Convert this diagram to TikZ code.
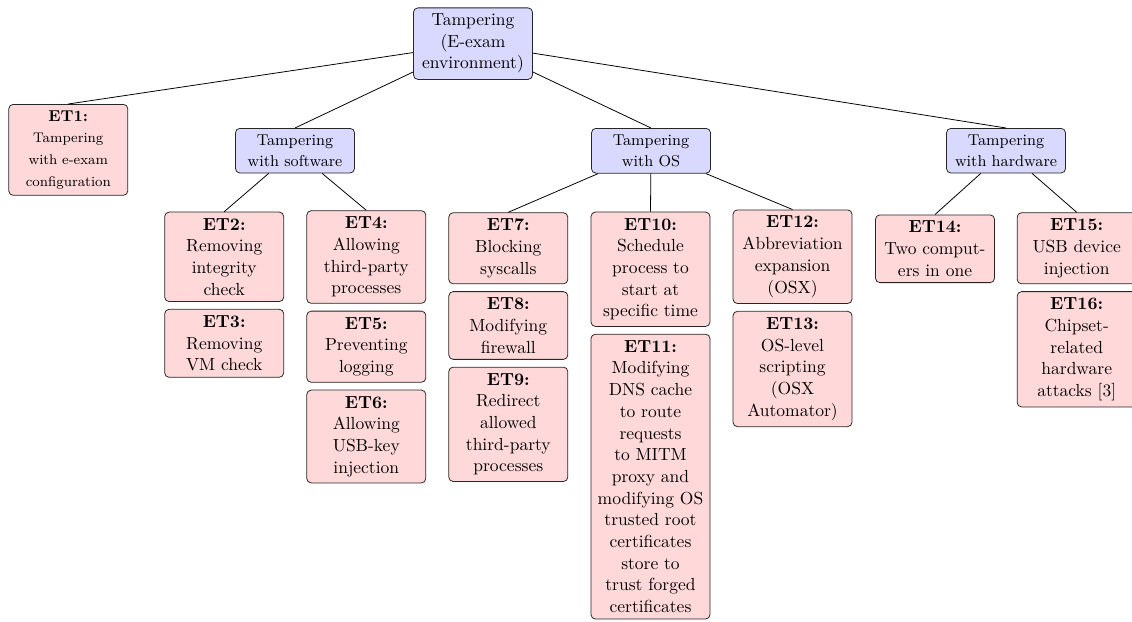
\documentclass[tikz,border=0pt]{standalone}
\usetikzlibrary{positioning}

\tikzset{
  box/.style={draw=black!85, line width=0.45pt, rounded corners=2.5pt,
    inner sep=3.5pt, align=center, text width=61pt},
  rootbox/.style={box, fill=blue!15, font=\fontsize{10}{12.3}\selectfont},
  groupbox/.style={box, fill=blue!15, minimum height=25.3pt,
    font=\fontsize{9}{12.3}\selectfont},
  leaf/.style={box, fill=red!15, font=\fontsize{10}{12.4}\selectfont},
  smallleaf/.style={box, fill=red!15, font=\fontsize{8}{12.4}\selectfont},
  link/.style={draw=black, line width=0.45pt},
}

\begin{document}
\begin{tikzpicture}[x=0.5714pt, y=-0.5714pt]
  \useasboundingbox (0,0) rectangle (1132,621);

  % root and first level
  \node[rootbox, anchor=north] (root) at (473,7.5)
    {Tampering\\(E-exam\\environment)};
  \node[smallleaf, anchor=north] (et1) at (68.3,104)
    {{\fontsize{9}{12.4}\selectfont\textbf{ET1:}}\\Tampering\\with e-exam\\configuration};
  \node[groupbox, anchor=north] (sw) at (295,128) {Tampering\\with software};
  \node[groupbox, anchor=north] (os) at (651,128) {Tampering\\with OS};
  \node[groupbox, anchor=north] (hw) at (1006,128) {Tampering\\with hardware};

  % software attacks
  \node[leaf, anchor=north] (et2) at (224.2,211.7)
    {\textbf{ET2:}\\Removing\\integrity\\check};
  \node[leaf, below=4pt of et2] (et3) {\textbf{ET3:}\\Removing\\VM check};
  \node[leaf, anchor=north] (et4) at (366.3,210.3)
    {\textbf{ET4:}\\Allowing\\third-party\\processes};
  \node[leaf, below=4pt of et4] (et5) {\textbf{ET5:}\\Preventing\\logging};
  \node[leaf, below=4pt of et5] (et6) {\textbf{ET6:}\\Allowing\\USB-key\\injection};

  % OS attacks
  \node[leaf, anchor=north] (et7) at (508.3,212.3)
    {\textbf{ET7:}\\Blocking\\syscalls};
  \node[leaf, below=4pt of et7] (et8) {\textbf{ET8:}\\Modifying\\firewall};
  \node[leaf, below=4pt of et8] (et9)
    {\textbf{ET9:}\\Redirect\\allowed\\third-party\\processes};
  \node[leaf, anchor=north] (et10) at (650.5,211.7)
    {\textbf{ET10:}\\Schedule\\process to\\start at\\specific time};
  \node[leaf, below=4pt of et10] (et11)
    {\textbf{ET11:}\\Modifying\\DNS cache\\to route\\requests\\to MITM\\proxy and\\modifying OS\\trusted root\\certificates\\store to\\trust forged\\certificates};
  \node[leaf, anchor=north] (et12) at (792.5,209.5)
    {\textbf{ET12:}\\Abbreviation\\expansion\\(OSX)};
  \node[leaf, below=4pt of et12] (et13)
    {\textbf{ET13:}\\OS-level\\scripting\\(OSX\\Automator)};

  % hardware attacks
  \node[leaf, anchor=north] (et14) at (935,214.5)
    {\textbf{ET14:}\\Two comput-\\ers in one};
  \node[leaf, anchor=north] (et15) at (1076.7,212.3)
    {\textbf{ET15:}\\USB device\\injection};
  \node[leaf, below=4pt of et15] (et16)
    {\textbf{ET16:}\\Chipset-\\related\\hardware\\attacks [3]};

  % tree edges
  \draw[link] (root) -- (et1.north);
  \draw[link] (root) -- (sw.north);
  \draw[link] (root) -- (os.north);
  \draw[link] (root) -- (hw.north);
  \draw[link] (sw) -- (et2.north);
  \draw[link] (sw) -- (et4.north);
  \draw[link] (os) -- (et7.north);
  \draw[link] (os) -- (et10.north);
  \draw[link] (os) -- (et12.north);
  \draw[link] (hw) -- (et14.north);
  \draw[link] (hw) -- (et15.north);
\end{tikzpicture}
\end{document}
